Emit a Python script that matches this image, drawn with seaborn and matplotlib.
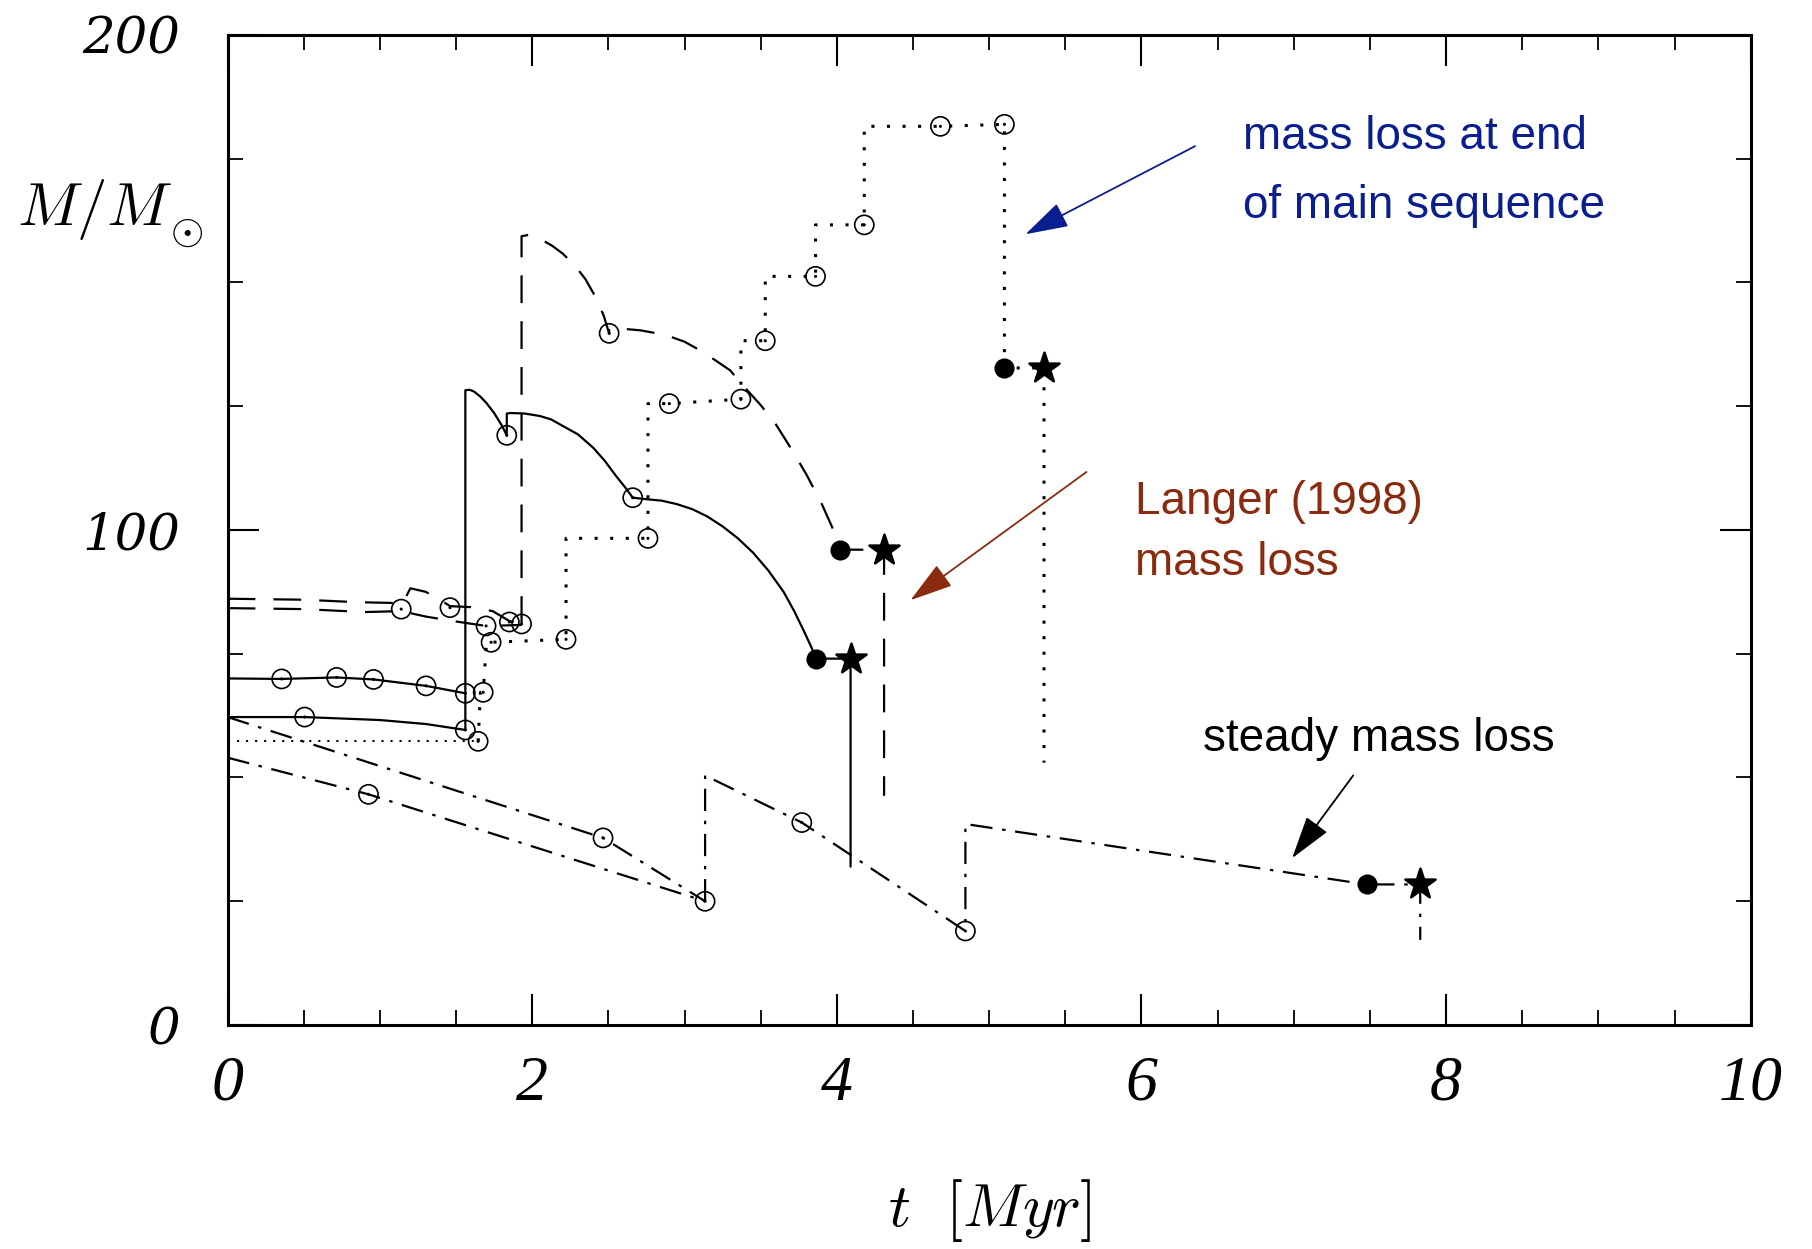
import numpy as np
import pandas as pd
import matplotlib
matplotlib.use("Agg")
import matplotlib.pyplot as plt
import seaborn as sns
from matplotlib import font_manager
from matplotlib.ticker import MultipleLocator, FixedLocator

# ---------------- data (t in Myr, M in solar masses) ----------------
solid_a_t = [0.0, 0.355, 0.716, 0.958, 1.303, 1.561]
solid_a_m = [70.0, 69.9, 70.2, 69.8, 68.5, 67.0]
solid_b_t = [0.0, 0.506, 1.0, 1.3, 1.561]
solid_b_m = [62.2, 62.2, 61.6, 60.8, 59.6]
solid_c_t = [1.561, 1.561, 1.59, 1.62, 1.66, 1.70, 1.75, 1.80, 1.833,
             1.833, 1.86, 1.95, 2.05, 2.125, 2.2, 2.3, 2.4, 2.475, 2.55, 2.62, 2.66,
             2.75, 2.85, 2.95, 3.05, 3.15, 3.25, 3.35, 3.45, 3.55, 3.65, 3.72, 3.78,
             3.83, 3.863, 4.09, 4.09]
solid_c_m = [59.6, 128.2, 128.3, 127.9, 126.9, 125.6, 123.6, 121.1, 119.1,
             123.5, 123.6, 123.5, 123.0, 122.3, 121.0, 119.3, 116.6, 114.0, 110.9, 108.2, 106.5,
             106.2, 105.9, 105.2, 104.2, 102.7, 100.7, 98.3, 95.4, 91.8, 87.5, 83.6, 79.8,
             76.5, 74.0, 74.0, 32.0]

dash_a_t = [0.0, 0.5, 0.85, 1.15, 1.2, 1.3, 1.4, 1.46, 1.6, 1.74, 1.85, 1.93]
dash_a_m = [86.1, 85.9, 85.4, 85.2, 88.2, 87.5, 85.8, 84.6, 84.4, 83.6, 81.6, 81.0]
dash_b_t = [0.0, 0.5, 0.9, 1.14, 1.3, 1.5, 1.697, 1.93]
dash_b_m = [84.2, 84.0, 83.4, 83.6, 82.5, 81.5, 80.6, 80.8]
dash_c_t = [1.93, 1.93, 1.98, 2.05, 2.13, 2.2, 2.28, 2.35, 2.42, 2.47, 2.505,
            2.505, 2.6, 2.71, 2.8, 2.9, 3.0, 3.1, 3.2, 3.3, 3.4, 3.5, 3.6, 3.7,
            3.8, 3.9, 3.97, 4.02, 4.31, 4.31]
dash_c_m = [81.0, 159.3, 159.6, 158.8, 157.4, 155.8, 153.4, 150.6, 146.8, 143.2, 139.7,
            140.6, 140.6, 140.3, 139.8, 139.1, 138.0, 136.3, 134.3, 132.2, 128.6, 125.2, 121.3, 116.4,
            111.2, 105.3, 100.5, 96.0, 96.0, 46.3]

dot_a_t = [0.0, 1.645]
dot_a_m = [57.3, 57.3]
dot_b_t = [1.645, 1.66, 1.678, 1.70, 1.73, 2.222, 2.222, 2.76, 2.76, 2.90, 3.37, 3.37,
           3.53, 3.53, 3.86, 3.86, 4.18, 4.18, 4.68, 5.10, 5.10, 5.36, 5.36]
dot_b_m = [57.3, 67.2, 67.2, 77.3, 77.3, 77.9, 98.3, 98.3, 125.5, 125.5, 126.4, 138.2,
           138.2, 151.2, 151.2, 161.6, 161.6, 181.5, 181.5, 181.9, 132.7, 132.7, 53.0]

dd_a_t = [0.0, 2.465, 3.135]
dd_a_m = [62.2, 37.8, 25.0]
dd_b_t = [0.0, 0.925, 3.135]
dd_b_m = [54.0, 46.6, 25.0]
dd_c_t = [3.135, 3.135, 3.77, 4.844, 4.844, 7.478, 7.83, 7.83]
dd_c_m = [25.0, 50.4, 40.9, 19.0, 40.6, 28.4, 28.4, 17.2]

circ_t = [0.355, 0.716, 0.958, 1.303, 1.561, 0.506, 1.561, 1.833, 2.66,
          1.14, 1.46, 1.697, 1.85, 1.93, 2.505,
          1.645, 1.678, 1.73, 2.222, 2.76, 2.90, 3.37, 3.53, 3.86, 4.18, 4.68, 5.10,
          0.925, 2.465, 3.135, 3.77, 4.844]
circ_m = [69.9, 70.2, 69.8, 68.5, 67.0, 62.2, 59.6, 119.1, 106.5,
          84.0, 84.3, 80.6, 81.4, 81.0, 139.7,
          57.3, 67.2, 77.3, 77.9, 98.3, 125.5, 126.4, 138.2, 151.2, 161.6, 181.5, 181.9,
          46.6, 37.8, 25.0, 40.9, 19.0]
filled_t = [3.863, 4.02, 5.10, 7.478]
filled_m = [74.0, 96.0, 132.7, 28.4]
star_t = [4.09, 4.31, 5.36, 7.83]
star_m = [74.0, 96.0, 132.7, 28.4]

x_ticks = [0, 2, 4, 6, 8, 10]
y_ticks = [0, 100, 200]

# ---------------- style ----------------
sns.set_style("ticks")
plt.rcParams.update({
    "font.family": ["DejaVu Serif"],
    "mathtext.fontset": "cm",
    "text.color": "black",
    "xtick.bottom": True, "xtick.top": True,
    "ytick.left": True, "ytick.right": True,
    "xtick.direction": "in", "ytick.direction": "in",
    "xtick.color": "black", "ytick.color": "black",
    "xtick.major.size": 22, "ytick.major.size": 22,
    "xtick.minor.size": 11, "ytick.minor.size": 11,
    "xtick.major.width": 1.5, "ytick.major.width": 1.5,
    "xtick.minor.width": 1.3, "ytick.minor.width": 1.3,
    "xtick.major.pad": 22, "ytick.major.pad": 34,
    "axes.edgecolor": "black",
    "axes.linewidth": 2.2,
})

def has_font(name):
    try:
        font_manager.findfont(font_manager.FontProperties(family=name), fallback_to_default=False)
        return True
    except Exception:
        return False

if has_font("Liberation Sans Narrow"):
    ann_family, ann_size = "Liberation Sans Narrow", 39
else:
    ann_family, ann_size = "Liberation Sans", 33

fig = plt.figure(figsize=(18.12, 12.49), dpi=100)
ax = fig.add_axes([0.1256, 0.1793, 0.8406, 0.7929])

def draw(t, m, pattern, lw=1.6):
    # dash pattern given in points; matplotlib scales dashes by linewidth
    ls = "-" if pattern is None else (0, tuple(v / lw for v in pattern))
    sns.lineplot(x=t, y=m, sort=False, estimator=None, color="black",
                 linewidth=lw, linestyle=ls, ax=ax, legend=False)

dashed = (20, 13)
dotted = (2.2, 9)
dotted_fine = (1.5, 5)
dashdot = (16, 7, 2.5, 7)

draw(solid_a_t, solid_a_m, None)
draw(solid_b_t, solid_b_m, None)
draw(solid_c_t, solid_c_m, None)
draw(dash_a_t, dash_a_m, dashed)
draw(dash_b_t, dash_b_m, dashed)
draw(dash_c_t, dash_c_m, dashed)
draw(dot_a_t, dot_a_m, dotted_fine, lw=1.5)
draw(dot_b_t, dot_b_m, dotted, lw=2.2)
draw(dd_a_t, dd_a_m, dashdot)
draw(dd_b_t, dd_b_m, dashdot)
draw(dd_c_t, dd_c_m, dashdot)

sns.scatterplot(x=circ_t, y=circ_m, marker="o", s=190, facecolors="none",
                edgecolor="black", linewidth=1.2, ax=ax, zorder=4)
sns.scatterplot(x=circ_t, y=circ_m, marker="o", s=5, color="black",
                edgecolor="none", ax=ax, zorder=4)
sns.scatterplot(x=filled_t, y=filled_m, marker="o", s=180, color="black",
                edgecolor="black", ax=ax, zorder=5)
sns.scatterplot(x=star_t, y=star_m, marker="*", s=520, color="black",
                edgecolor="black", ax=ax, zorder=5)

ax.set_xlim(0, 10)
ax.set_ylim(0, 200)
ax.xaxis.set_major_locator(FixedLocator(x_ticks))
ax.xaxis.set_minor_locator(MultipleLocator(0.5))
ax.yaxis.set_major_locator(FixedLocator(y_ticks))
ax.yaxis.set_minor_locator(MultipleLocator(25))
ax.tick_params(which="both", direction="in", top=True, right=True, bottom=True, left=True)
ax.set_xticks(x_ticks)
ax.set_yticks(y_ticks)
ax.set_xticklabels([str(v) for v in x_ticks], fontfamily="Liberation Serif",
                   fontstyle="italic", fontsize=46, color="black")
ax.set_yticklabels([str(v) for v in y_ticks], fontfamily="DejaVu Serif",
                   fontstyle="italic", fontsize=37, color="black")

fig.text(990 / 1812, 1 - 1210 / 1249, r"$t\ \ [Myr]$", ha="center", va="center",
         fontsize=44, color="black")
fig.text(17 / 1812, 1 - 225 / 1249, r"$M/M$", ha="left", va="baseline",
         fontsize=44, color="black")
fig.text(187 / 1812, 1 - 232 / 1249, r"$\odot$", ha="center", va="center",
         fontsize=31, color="black")

blue = "#0b1e8f"
brown = "#8a2b0f"
akw = dict(ha="left", va="baseline", fontfamily=ann_family, fontsize=ann_size)
ax.text(6.667, 177.0, "mass loss at end", color=blue, **akw)
ax.text(6.667, 162.9, "of main sequence", color=blue, **akw)
ax.text(5.958, 103.3, "Langer (1998)", color=brown, **akw)
ax.text(5.958, 90.9, "mass loss", color=brown, **akw)
ax.text(6.403, 55.35, "steady mass loss", color="black", **akw)

def arrow(tail, tip, color):
    ax.annotate("", xy=tip, xytext=tail,
                arrowprops=dict(arrowstyle="-|>,head_length=0.9,head_width=0.27",
                                mutation_scale=30, color=color, lw=1.3,
                                shrinkA=0, shrinkB=0))

arrow((6.352, 177.5), (5.238, 159.7), blue)
arrow((5.639, 111.7), (4.483, 85.8), brown)
arrow((7.39, 50.4), (6.989, 33.7), "black")

# draw once before saving (this made the bottom/left ticks render reliably)
fig.canvas.draw()
renderer = fig.canvas.get_renderer()
for axis in (ax.xaxis, ax.yaxis):
    for tk in axis.get_major_ticks() + axis.get_minor_ticks():
        tk.tick1line.set_visible(True)
        tk.tick1line.get_window_extent(renderer)
        tk.tick2line.get_window_extent(renderer)

fig.savefig("out.png", dpi=100)
